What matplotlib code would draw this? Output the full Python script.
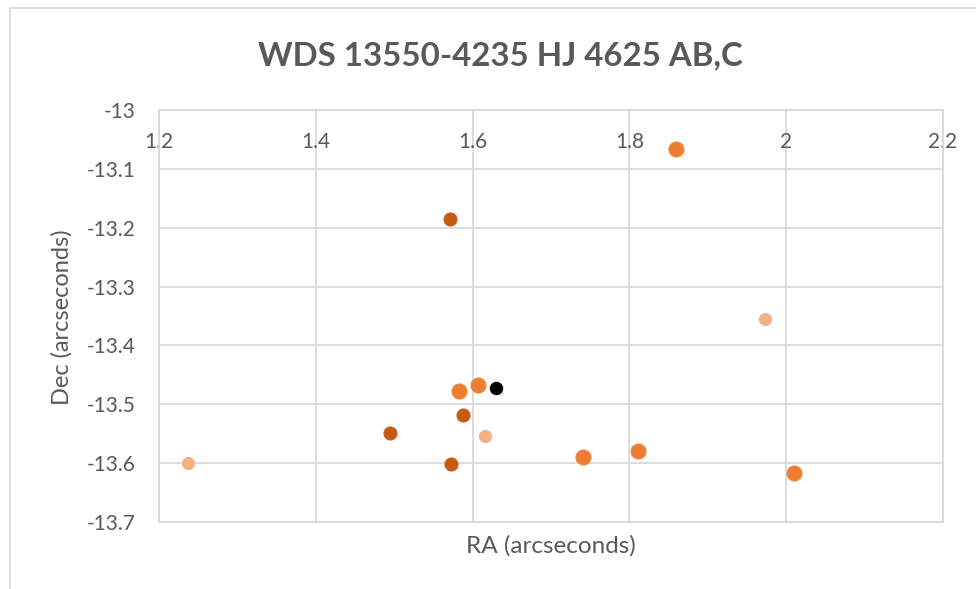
import matplotlib
matplotlib.use("Agg")
import matplotlib.pyplot as plt
from matplotlib.patches import Rectangle

plt.rcParams['font.family'] = ['Lato', 'DejaVu Sans']

# Data (RA, Dec in arcseconds), grouped by marker style
ra_mid = [1.859, 1.583, 1.6065, 1.7412, 1.8106, 2.0103]
dec_mid = [-13.066, -13.477, -13.468, -13.590, -13.580, -13.616]

ra_dark = [1.571, 1.5874, 1.4946, 1.5724]
dec_dark = [-13.185, -13.519, -13.548, -13.601]

ra_light = [1.9725, 1.6158, 1.2366]
dec_light = [-13.355, -13.554, -13.599]

ra_black = [1.6295]
dec_black = [-13.473]

title = "WDS 13550-4235 HJ 4625 AB,C"
xlabel = "RA (arcseconds)"
ylabel = "Dec (arcseconds)"
xticks = [1.2, 1.4, 1.6, 1.8, 2.0, 2.2]
xticklabels = ["1.2", "1.4", "1.6", "1.8", "2", "2.2"]
yticks = [-13.0, -13.1, -13.2, -13.3, -13.4, -13.5, -13.6, -13.7]
yticklabels = ["-13", "-13.1", "-13.2", "-13.3", "-13.4", "-13.5", "-13.6", "-13.7"]

W, H = 976, 589
fig = plt.figure(figsize=(W / 100, H / 100), dpi=100)
fig.patch.set_facecolor('white')

# outer chart border
fig.patches.append(Rectangle((10 / W, -0.05), 1.2, (1 - 8 / H) + 0.05,
                             transform=fig.transFigure, fill=False,
                             edgecolor='#D9D9D9', linewidth=1.2, zorder=0))

left, right, top, bottom = 159, 943, 110, 522
ax = fig.add_axes([left / W, 1 - bottom / H, (right - left) / W, (bottom - top) / H])

grid_c = '#D9D9D9'
text_c = '#595959'

ax.set_xlim(1.2, 2.2)
ax.set_ylim(-13.7, -13.0)
ax.xaxis.set_ticks_position('top')
ax.set_xticks(xticks)
ax.set_xticklabels(xticklabels)
ax.set_yticks(yticks)
ax.set_yticklabels(yticklabels)
ax.grid(True, color=grid_c, linewidth=1.3)
ax.set_axisbelow(True)
for s in ax.spines.values():
    s.set_color(grid_c)
    s.set_linewidth(1.3)

ax.tick_params(axis='both', length=0, colors=text_c, labelsize=15)
ax.tick_params(axis='x', pad=-30)
ax.tick_params(axis='y', pad=17)

ax.scatter(ra_mid, dec_mid, s=117, color='#ED7D31', edgecolors='#EE8A45', linewidths=0.8, zorder=3)
ax.scatter(ra_dark, dec_dark, s=88, color='#C55A11', edgecolors='#C8621F', linewidths=0.8, zorder=3)
ax.scatter(ra_light, dec_light, s=75, color='#F4B183', edgecolors='#F4B183', linewidths=0.8, zorder=3)
ax.scatter(ra_black, dec_black, s=75, color='#000000', zorder=3)

fig.text(500 / W, 1 - 56 / H, title, ha='center', va='center',
         fontsize=23.8, fontweight='bold', color=text_c)
fig.text(551 / W, 1 - 546 / H, xlabel, ha='center', va='center',
         fontsize=17.5, color=text_c)
fig.text(62 / W, 1 - 317 / H, ylabel, ha='center', va='center',
         fontsize=17, color=text_c, rotation=90)

fig.savefig('out.png', dpi=100)
